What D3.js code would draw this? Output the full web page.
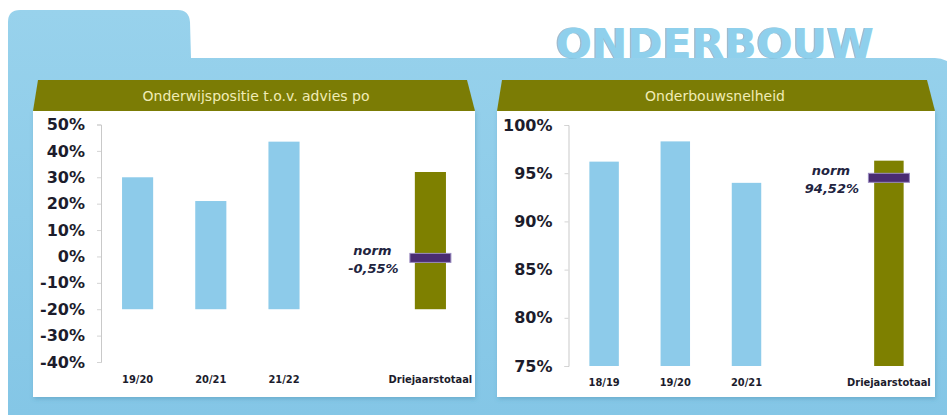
<!DOCTYPE html>
<html>
<head>
<meta charset="utf-8">
<script src="https://cdn.jsdelivr.net/npm/d3@7"></script>
<style>
  body { margin: 0; background: #ffffff; }
  svg { display: block; }
  .tick-label { font-family: "DejaVu Sans", Verdana, sans-serif; font-weight: bold; font-size: 16px; fill: #1c1c2c; }
  .cat-label { font-family: "DejaVu Sans Condensed", "DejaVu Sans", sans-serif; font-weight: bold; font-size: 11px; fill: #1c1c2c; }
  .norm-label { font-family: "DejaVu Sans", sans-serif; font-weight: bold; font-style: italic; font-size: 13px; fill: #22243f; }
  .panel-title { font-family: "DejaVu Sans", Verdana, sans-serif; font-size: 14px; fill: #f1ecb6; }
</style>
</head>
<body>
<div id="chart"></div>
<script>
//---------------------------DATA-------------------------------//
const leftTitle = "Onderwijspositie t.o.v. advies po";
const leftCategories = ["19/20", "20/21", "21/22", "Driejaarstotaal"];
const leftValues = [30, 21, 43.5, 32];
const leftBase = -20;
const leftNorm = -0.55;
const leftNormText = "-0,55%";
const leftTicks = [50, 40, 30, 20, 10, 0, -10, -20, -30, -40];

const rightTitle = "Onderbouwsnelheid";
const rightCategories = ["18/19", "19/20", "20/21", "Driejaarstotaal"];
const rightValues = [96.2, 98.3, 94.0, 96.3];
const rightBase = 75;
const rightNorm = 94.52;
const rightNormText = "94,52%";
const rightTicks = [100, 95, 90, 85, 80, 75];

//-------------------------SVG SETUP----------------------------//
const width = 947;
const height = 419;
const svg = d3.select("#chart").append("svg")
    .attr("width", width)
    .attr("height", height);

const defs = svg.append("defs");
const frameGrad = defs.append("linearGradient")
    .attr("id", "frameGrad").attr("x1", 0).attr("y1", 0).attr("x2", 0).attr("y2", 1);
frameGrad.append("stop").attr("offset", "0%").attr("stop-color", "#98d2ec");
frameGrad.append("stop").attr("offset", "100%").attr("stop-color", "#84c6e6");

const shadow = defs.append("filter").attr("id", "shadow")
    .attr("x", "-5%").attr("y", "-5%").attr("width", "110%").attr("height", "115%");
shadow.append("feDropShadow").attr("dx", 1).attr("dy", 2).attr("stdDeviation", 2)
    .attr("flood-color", "#3a7fa0").attr("flood-opacity", 0.35);

//---------------------------FRAME------------------------------//
svg.append("rect").attr("width", width).attr("height", height).attr("fill", "#ffffff");

svg.append("path")
    .attr("d", "M8,415 L8,22 Q8,10 20,10 L178,10 Q189,10 190,22 L191,58 L935,58 Q947,58 960,70 L960,415 Z")
    .attr("fill", "url(#frameGrad)");

// title
svg.append("text")
    .attr("x", 556).attr("y", 58)
    .attr("textLength", 318).attr("lengthAdjust", "spacingAndGlyphs")
    .style("font-family", "'DejaVu Sans', Verdana, sans-serif")
    .style("font-weight", "bold").style("font-size", "41px")
    .attr("fill", "#5f8ea3").attr("opacity", 0.6)
    .attr("transform", "translate(-1.5,0)")
    .text("ONDERBOUW");
svg.append("text")
    .attr("x", 556).attr("y", 58)
    .attr("textLength", 318).attr("lengthAdjust", "spacingAndGlyphs")
    .style("font-family", "'DejaVu Sans', Verdana, sans-serif")
    .style("font-weight", "bold").style("font-size", "41px")
    .attr("fill", "#8fd0ec")
    .text("ONDERBOUW");

//---------------------------PANELS-----------------------------//
function drawPanel(cfg) {
    const g = svg.append("g");

    // white card + olive header
    g.append("rect")
        .attr("x", cfg.px0).attr("y", 110)
        .attr("width", cfg.px1 - cfg.px0).attr("height", 287)
        .attr("fill", "#ffffff").attr("filter", "url(#shadow)");
    g.append("path")
        .attr("d", "M" + cfg.px0 + ",111 L" + (cfg.px0 + 5) + ",80 L" + (cfg.px1 - 8) + ",80 L" + cfg.px1 + ",111 Z")
        .attr("fill", "#7b7c05");
    g.append("text")
        .attr("class", "panel-title")
        .attr("x", cfg.titleX).attr("y", 101)
        .attr("text-anchor", "middle")
        .text(cfg.title);

    // scales
    const domain = cfg.categories.slice(0, 3).concat(["_gap"], cfg.categories.slice(3));
    const x = d3.scaleBand()
        .domain(domain)
        .range(cfg.xRange)
        .paddingInner(cfg.pad)
        .paddingOuter(cfg.pad / 2);
    const y = d3.scaleLinear()
        .domain(cfg.yDomain)
        .range(cfg.yRange);

    // y axis
    const yaxis = d3.axisLeft(y)
        .tickValues(cfg.ticks)
        .tickSize(4)
        .tickPadding(12)
        .tickFormat(d => d + "%");
    const ax = g.append("g")
        .attr("transform", "translate(" + cfg.xRange[0] + ",0)")
        .call(yaxis);
    ax.select(".domain").attr("stroke", "#c9c9c9");
    ax.selectAll(".tick line").attr("stroke", "#d4d4d4");
    ax.selectAll(".tick text").attr("class", "tick-label").attr("fill", null);

    // category labels
    g.selectAll(".cat-label")
        .data(cfg.categories)
        .enter().append("text")
        .attr("class", "cat-label")
        .attr("x", d => x(d) + x.bandwidth() / 2)
        .attr("y", cfg.catY)
        .attr("text-anchor", "middle")
        .text(d => d);

    // bars
    const last = cfg.categories.length - 1;
    g.selectAll(".bar")
        .data(cfg.values)
        .enter().append("rect")
        .attr("class", "bar")
        .attr("x", (d, i) => x(cfg.categories[i]))
        .attr("width", x.bandwidth())
        .attr("y", d => y(d))
        .attr("height", d => y(cfg.base) - y(d))
        .attr("fill", (d, i) => i === last ? "#7e8000" : "#8dcbea");

    // norm marker
    const cx = x(cfg.categories[last]) + x.bandwidth() / 2;
    g.append("rect")
        .attr("x", cx - 20.5).attr("width", 41)
        .attr("y", y(cfg.norm) - 4.5).attr("height", 9)
        .attr("fill", "#4a2c72")
        .attr("stroke", "#9a8cc0").attr("stroke-width", 1);
    g.append("text")
        .attr("class", "norm-label")
        .attr("x", cx - 58).attr("y", y(cfg.norm) - 3)
        .attr("text-anchor", "middle")
        .text("norm");
    g.append("text")
        .attr("class", "norm-label")
        .attr("x", cx - 57).attr("y", y(cfg.norm) + 15)
        .attr("text-anchor", "middle")
        .text(cfg.normText);
}

drawPanel({
    px0: 33, px1: 475, titleX: 256, title: leftTitle,
    categories: leftCategories, values: leftValues, base: leftBase,
    norm: leftNorm, normText: leftNormText, ticks: leftTicks,
    xRange: [101, 467], pad: 0.575,
    yDomain: [-40, 50], yRange: [362, 124.5], catY: 383
});

drawPanel({
    px0: 497, px1: 935, titleX: 715, title: rightTitle,
    categories: rightCategories, values: rightValues, base: rightBase,
    norm: rightNorm, normText: rightNormText, ticks: rightTicks,
    xRange: [568.5, 924.5], pad: 0.586,
    yDomain: [75, 100], yRange: [366, 125], catY: 386
});
</script>
</body>
</html>
